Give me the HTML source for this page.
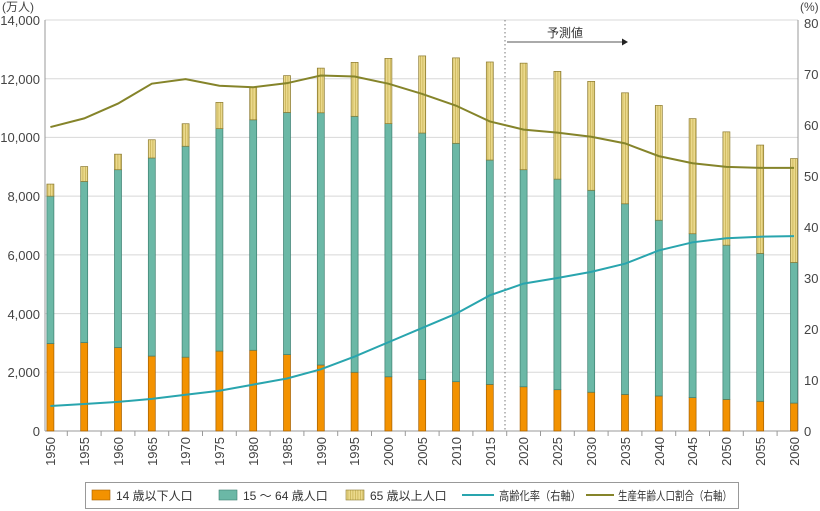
<!DOCTYPE html>
<html><head><meta charset="utf-8"><style>
body{margin:0;background:#fff;width:820px;height:511px;overflow:hidden}
svg{display:block;font-family:"Liberation Sans","Noto Sans CJK JP",sans-serif}
</style></head><body>
<svg id="c" width="820" height="511" xmlns="http://www.w3.org/2000/svg">
<defs>
<pattern id="st" width="2.5" height="4" patternUnits="userSpaceOnUse">
<rect width="2.5" height="4" fill="#ebd98c"/><rect width="0.8" height="4" fill="#c9b458"/>
</pattern>
</defs>
<g id="grid" stroke="#d8d8d8" stroke-width="1">
<line x1="45" x2="798" y1="20" y2="20"/><line x1="45" x2="798" y1="78.7" y2="78.7"/>
<line x1="45" x2="798" y1="137.4" y2="137.4"/><line x1="45" x2="798" y1="196.1" y2="196.1"/>
<line x1="45" x2="798" y1="254.9" y2="254.9"/><line x1="45" x2="798" y1="313.6" y2="313.6"/>
<line x1="45" x2="798" y1="372.3" y2="372.3"/>
</g>
<g stroke="#999" stroke-width="1">
<line x1="45" y1="20" x2="45" y2="431"/><line x1="798" y1="20" x2="798" y2="431"/>
<line x1="45" y1="431" x2="798" y2="431"/>
</g>
<g id="ticks" stroke="#999"></g>
<g id="bars"></g>
<line x1="505" y1="20" x2="505" y2="431" stroke="#777" stroke-dasharray="1.5,2.5"/>
<line x1="507" y1="42" x2="622" y2="42" stroke="#555"/>
<polygon points="622,38.5 628,42 622,45.5" fill="#222"/>
<text x="565" y="37" font-size="12" fill="#333" text-anchor="middle">予測値</text>
<polyline id="l1" fill="none" stroke="#29a5ae" stroke-width="2"/>
<polyline id="l2" fill="none" stroke="#85842a" stroke-width="2"/>
<g font-size="13" fill="#444" text-anchor="end">
<text x="40" y="25">14,000</text><text x="40" y="84">12,000</text><text x="40" y="142">10,000</text>
<text x="40" y="201">8,000</text><text x="40" y="260">6,000</text><text x="40" y="319">4,000</text>
<text x="40" y="377">2,000</text><text x="40" y="436">0</text>
</g>
<text x="2" y="11" font-size="12" fill="#444">(万人)</text>
<text x="800" y="11" font-size="12" fill="#444">(%)</text>
<g font-size="13" fill="#444">
<text x="804" y="28">80</text><text x="804" y="79">70</text><text x="804" y="130">60</text>
<text x="804" y="181">50</text><text x="804" y="232">40</text><text x="804" y="283">30</text>
<text x="804" y="334">20</text><text x="804" y="385">10</text><text x="804" y="436">0</text>
</g>
<g font-size="13" fill="#444" text-anchor="end">
<text transform="translate(55,437) rotate(-90)">1950</text><text transform="translate(89,437) rotate(-90)">1955</text>
<text transform="translate(123,437) rotate(-90)">1960</text><text transform="translate(157,437) rotate(-90)">1965</text>
<text transform="translate(190,437) rotate(-90)">1970</text><text transform="translate(224,437) rotate(-90)">1975</text>
<text transform="translate(258,437) rotate(-90)">1980</text><text transform="translate(292,437) rotate(-90)">1985</text>
<text transform="translate(326,437) rotate(-90)">1990</text><text transform="translate(359,437) rotate(-90)">1995</text>
<text transform="translate(393,437) rotate(-90)">2000</text><text transform="translate(427,437) rotate(-90)">2005</text>
<text transform="translate(461,437) rotate(-90)">2010</text><text transform="translate(495,437) rotate(-90)">2015</text>
<text transform="translate(528,437) rotate(-90)">2020</text><text transform="translate(562,437) rotate(-90)">2025</text>
<text transform="translate(596,437) rotate(-90)">2030</text><text transform="translate(630,437) rotate(-90)">2035</text>
<text transform="translate(664,437) rotate(-90)">2040</text><text transform="translate(697,437) rotate(-90)">2045</text>
<text transform="translate(731,437) rotate(-90)">2050</text><text transform="translate(765,437) rotate(-90)">2055</text>
<text transform="translate(799,437) rotate(-90)">2060</text>
</g>
<rect x="85.5" y="482.5" width="653" height="26" fill="#fff" stroke="#999"/>
<g font-size="12" fill="#333">
<rect x="92" y="490" width="18" height="10" fill="#f39200" stroke="#a35f00" stroke-width="0.6"/>
<text x="116" y="500">14 歳以下人口</text>
<rect x="219" y="490" width="18" height="10" fill="#6bb8a6" stroke="#3d7f71" stroke-width="0.6"/>
<text x="243" y="500">15 ～ 64 歳人口</text>
<rect x="346" y="490" width="18" height="10" fill="url(#st)" stroke="#8b7a30" stroke-width="0.6"/>
<text x="370" y="500">65 歳以上人口</text>
<line x1="462" y1="495" x2="494" y2="495" stroke="#29a5ae" stroke-width="2"/>
<text x="499" y="500" textLength="82" lengthAdjust="spacingAndGlyphs">高齢化率（右軸）</text>
<line x1="586" y1="495" x2="614" y2="495" stroke="#85842a" stroke-width="2"/>
<text x="618" y="500" textLength="114" lengthAdjust="spacingAndGlyphs">生産年齢人口割合（右軸）</text>
</g>
</svg>
<script>
var y0=431,k=411/14000,kr=5.1,x0=50.4,dx=33.8;
var a=[2979,3012,2843,2553,2515,2723,2751,2603,2249,2001,1847,1752,1680,1589,1507,1407,1321,1246,1194,1138,1077,1012,951];
var b=[8000,8500,8900,9300,9700,10300,10600,10850,10840,10720,10470,10150,9800,9230,8900,8580,8200,7740,7180,6720,6330,6050,5740];
var t=[8411,9008,9430,9921,10467,11194,11706,12105,12361,12557,12693,12777,12710,12570,12530,12250,11910,11520,11090,10640,10190,9740,9280];
var r1=[4.9,5.3,5.7,6.3,7.1,7.9,9.1,10.3,12.1,14.6,17.4,20.2,23.0,26.6,28.9,30.0,31.2,32.8,35.4,37.0,37.8,38.1,38.2];
var r2=[59.6,61.3,64.2,68.1,69.0,67.7,67.4,68.2,69.7,69.5,68.1,66.1,63.8,60.7,59.1,58.5,57.7,56.4,53.9,52.5,51.8,51.6,51.6];
var s='',tk='',p1=[],p2=[];
for(var i=0;i<23;i++){var x=x0+i*dx,w=7,l=x-w/2;
function R(v1,v2,f,st){var ya=y0-v2*k,yb=y0-v1*k;s+='<rect x="'+l+'" y="'+ya+'" width="'+w+'" height="'+(yb-ya)+'" fill="'+f+'" stroke="'+st+'" stroke-width="0.7"/>';}
R(0,a[i],'#f39200','#a35f00');R(a[i],b[i],'#6bb8a6','#3d7f71');R(b[i],t[i],'url(#st)','#8b7a30');
if(i<22){var tx=x+dx/2;tk+='<line x1="'+tx+'" x2="'+tx+'" y1="431" y2="436"/>';}
p1.push(x+','+(y0-r1[i]*kr));p2.push(x+','+(y0-r2[i]*kr));}
document.getElementById('bars').innerHTML=s;document.getElementById('ticks').innerHTML=tk;
document.getElementById('l1').setAttribute('points',p1.join(' '));
document.getElementById('l2').setAttribute('points',p2.join(' '));
</script>
</body></html>
